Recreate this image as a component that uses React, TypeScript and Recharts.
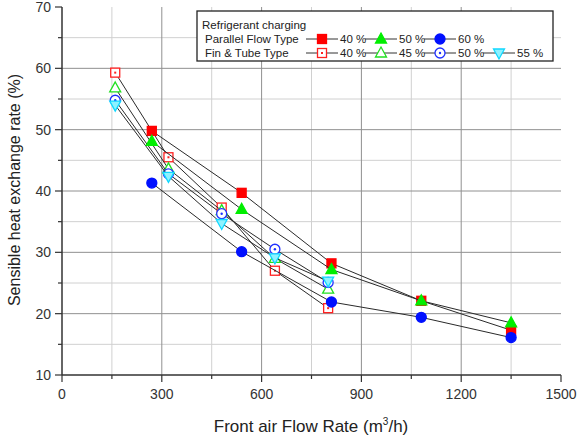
import React from "react";
import { ScatterChart, Scatter, XAxis, YAxis, ReferenceLine, Label } from "recharts";

// Flow rates (m3/h) tested for each heat exchanger type
const parallelFlow = [270, 540, 810, 1080, 1350];
const finTubeFlow = [160, 320, 480, 640, 800];

// Sensible heat exchange rate (%) - parallel flow type
const parallel40 = [49.8, 39.7, 28.2, 22.1, 17.3];
const parallel50 = [48.1, 37.0, 27.2, 22.1, 18.5];
const parallel60 = [41.3, 30.1, 21.9, 19.4, 16.1];

// Sensible heat exchange rate (%) - fin & tube type
const finTube40 = [59.3, 45.5, 37.3, 27.0, 20.9];
const finTube45 = [56.8, 43.6, 36.8, 29.0, 24.0];
const finTube50 = [54.8, 42.8, 36.3, 30.5, 25.1];
const finTube55 = [54.0, 42.4, 34.7, 29.1, 25.3];

const xTicks = [0, 150, 300, 450, 600, 750, 900, 1050, 1200, 1350, 1500];
const yTicks = [10, 15, 20, 25, 30, 35, 40, 45, 50, 55, 60, 65, 70];
const xMajorGrid = [300, 600, 900, 1200];
const xMinorGrid = [150, 450, 750, 1050, 1350];
const yMajorGrid = [20, 30, 40, 50, 60];
const yMinorGrid = [15, 25, 35, 45, 55, 65];

const FONT = "Arial, 'Liberation Sans', sans-serif";
const AXIS = "#333";

type Shape = "square" | "triangle" | "circle" | "down";

interface SeriesDef {
  label: string;
  shape: Shape;
  color: string;
  fill: string;
  flow: number[];
  values: number[];
}

const finTubeSeries: SeriesDef[] = [
  { label: "40 %", shape: "square", color: "#ff2020", fill: "#fff", flow: finTubeFlow, values: finTube40 },
  { label: "45 %", shape: "triangle", color: "#20e020", fill: "#fff", flow: finTubeFlow, values: finTube45 },
  { label: "50 %", shape: "circle", color: "#2030ff", fill: "#fff", flow: finTubeFlow, values: finTube50 },
  { label: "55 %", shape: "down", color: "#10d8ff", fill: "#8ef2ff", flow: finTubeFlow, values: finTube55 },
];

const parallelSeries: SeriesDef[] = [
  { label: "40 %", shape: "square", color: "#ff0000", fill: "#ff0000", flow: parallelFlow, values: parallel40 },
  { label: "50 %", shape: "triangle", color: "#00ee00", fill: "#00ee00", flow: parallelFlow, values: parallel50 },
  { label: "60 %", shape: "circle", color: "#0010ff", fill: "#0010ff", flow: parallelFlow, values: parallel60 },
];

function Marker({ shape, color, fill, cx, cy }: { shape: Shape; color: string; fill: string; cx: number; cy: number }) {
  const open = fill === "#fff";
  switch (shape) {
    case "square":
      return (
        <g>
          <rect x={cx - 4.5} y={cy - 4.5} width={9} height={9} fill={fill} stroke={color} strokeWidth={1.3} />
          {open && <rect x={cx - 1} y={cy - 1} width={2} height={2} fill={color} />}
        </g>
      );
    case "triangle":
      return (
        <polygon
          points={`${cx},${cy - 6} ${cx + 5.5},${cy + 4} ${cx - 5.5},${cy + 4}`}
          fill={fill}
          stroke={color}
          strokeWidth={1.3}
        />
      );
    case "circle":
      return (
        <g>
          <circle cx={cx} cy={cy} r={5} fill={fill} stroke={color} strokeWidth={1.3} />
          {open && <circle cx={cx} cy={cy} r={1.2} fill={color} />}
        </g>
      );
    default:
      return (
        <polygon
          points={`${cx - 5.5},${cy - 4} ${cx + 5.5},${cy - 4} ${cx},${cy + 6}`}
          fill={fill}
          stroke={color}
          strokeWidth={1.3}
        />
      );
  }
}

const toPoints = (s: SeriesDef) => s.flow.map((x, i) => ({ x, y: s.values[i] }));

// tick renderers: axes use tickSize 0 so (x, y) sits right on the axis line
const LeftTick = (p: any) => {
  const v = p.payload.value;
  const major = v % 10 === 0;
  return (
    <g>
      <line x1={p.x - (major ? 7 : 4)} x2={p.x} y1={p.y} y2={p.y} stroke={AXIS} strokeWidth={1.2} />
      {major && (
        <text x={p.x - 11} y={p.y + 5} textAnchor="end" fontSize={14} fill="#333" fontFamily={FONT}>
          {v}
        </text>
      )}
    </g>
  );
};

const RightTick = (p: any) => {
  const major = p.payload.value % 10 === 0;
  return <line x1={p.x} x2={p.x + (major ? 6 : 3)} y1={p.y} y2={p.y} stroke={AXIS} strokeWidth={1.2} />;
};

const BottomTick = (p: any) => {
  const v = p.payload.value;
  const major = v % 300 === 0;
  return (
    <g>
      <line x1={p.x} x2={p.x} y1={p.y} y2={p.y + (major ? 7 : 4)} stroke={AXIS} strokeWidth={1.2} />
      {major && (
        <text x={p.x} y={p.y + 24} textAnchor="middle" fontSize={14} fill="#333" fontFamily={FONT}>
          {v}
        </text>
      )}
    </g>
  );
};

const TopTick = (p: any) => {
  const major = p.payload.value % 300 === 0;
  return <line x1={p.x} x2={p.x} y1={p.y} y2={p.y - (major ? 6 : 3)} stroke={AXIS} strokeWidth={1.2} />;
};

function LegendBox() {
  const centers = [322, 381, 440, 499];
  const rows = [
    { title: "Parallel Flow Type", y: 39, series: parallelSeries },
    { title: "Fin & Tube Type", y: 53, series: finTubeSeries },
  ];
  return (
    <svg width={577} height={437} style={{ position: "absolute", left: 0, top: 0, pointerEvents: "none" }}>
      <rect x={197} y={11} width={356} height={50} fill="#fff" stroke="#222" strokeWidth={1.3} />
      <text x={202} y={29} fontSize={11.5} fontFamily={FONT} fill="#222">
        Refrigerant charging
      </text>
      {rows.map((row) => (
        <g key={row.title}>
          <text x={205} y={row.y + 4} fontSize={11.5} fontFamily={FONT} fill="#222">
            {row.title}
          </text>
          {row.series.map((s, i) => (
            <g key={s.label + i}>
              <line x1={centers[i] - 16} x2={centers[i] + 16} y1={row.y} y2={row.y} stroke="#333" strokeWidth={1} />
              <Marker shape={s.shape} color={s.color} fill={s.fill} cx={centers[i]} cy={row.y} />
              <text x={centers[i] + 18} y={row.y + 4} fontSize={11.5} fontFamily={FONT} fill="#222">
                {s.label}
              </text>
            </g>
          ))}
        </g>
      ))}
    </svg>
  );
}

export default function App() {
  return (
    <div style={{ position: "relative", width: 577, height: 437, background: "#fff" }}>
      <style>{"body{margin:0}"}</style>
      <ScatterChart width={577} height={437} margin={{ top: 7, right: 16, bottom: 0, left: 0 }}>
        {yMinorGrid.map((v) => (
          <ReferenceLine key={"ym" + v} y={v} stroke="#d0d0d0" strokeWidth={1} />
        ))}
        {xMinorGrid.map((v) => (
          <ReferenceLine key={"xm" + v} x={v} stroke="#d0d0d0" strokeWidth={1} />
        ))}
        {yMajorGrid.map((v) => (
          <ReferenceLine key={"yM" + v} y={v} stroke="#909090" strokeWidth={1} />
        ))}
        {xMajorGrid.map((v) => (
          <ReferenceLine key={"xM" + v} x={v} stroke="#909090" strokeWidth={1} />
        ))}
        <XAxis
          dataKey="x"
          type="number"
          domain={[0, 1500]}
          ticks={xTicks}
          interval={0}
          allowDataOverflow
          height={62}
          tickSize={0}
          tickMargin={0}
          tickLine={false}
          tick={BottomTick}
          axisLine={{ stroke: AXIS, strokeWidth: 1.5 }}
        >
          <Label
            content={() => (
              <text x={311} y={432} textAnchor="middle" fontSize={17} fontFamily={FONT} fill="#222">
                Front air Flow Rate (m
                <tspan dy={-7} fontSize={10}>3</tspan>
                <tspan dy={7}>/h)</tspan>
              </text>
            )}
          />
        </XAxis>
        <XAxis
          xAxisId="top"
          orientation="top"
          type="number"
          domain={[0, 1500]}
          ticks={xTicks}
          interval={0}
          allowDataOverflow
          height={0}
          tickSize={0}
          tickMargin={0}
          tickLine={false}
          tick={TopTick}
          axisLine={{ stroke: AXIS, strokeWidth: 1.5 }}
        />
        <YAxis
          dataKey="y"
          type="number"
          domain={[10, 70]}
          ticks={yTicks}
          interval={0}
          allowDataOverflow
          width={62}
          tickSize={0}
          tickMargin={0}
          tickLine={false}
          tick={LeftTick}
          axisLine={{ stroke: AXIS, strokeWidth: 1.5 }}
        >
          <Label
            content={() => (
              <text
                x={20}
                y={190}
                transform="rotate(-90 20 190)"
                textAnchor="middle"
                fontSize={16}
                fontFamily={FONT}
                fill="#222"
              >
                Sensible heat exchange rate (%)
              </text>
            )}
          />
        </YAxis>
        <YAxis
          yAxisId="right"
          orientation="right"
          type="number"
          domain={[10, 70]}
          ticks={yTicks}
          interval={0}
          allowDataOverflow
          width={0}
          tickSize={0}
          tickMargin={0}
          tickLine={false}
          tick={RightTick}
          axisLine={{ stroke: AXIS, strokeWidth: 1.5 }}
        />
        {[...finTubeSeries, ...parallelSeries].map((s, i) => (
          <Scatter
            key={i}
            data={toPoints(s)}
            fill={s.color}
            line={{ stroke: "#2a2a2a", strokeWidth: 1 }}
            lineType="joint"
            isAnimationActive={false}
            shape={(p: any) => <Marker shape={s.shape} color={s.color} fill={s.fill} cx={p.cx} cy={p.cy} />}
          />
        ))}
      </ScatterChart>
      <LegendBox />
    </div>
  );
}
